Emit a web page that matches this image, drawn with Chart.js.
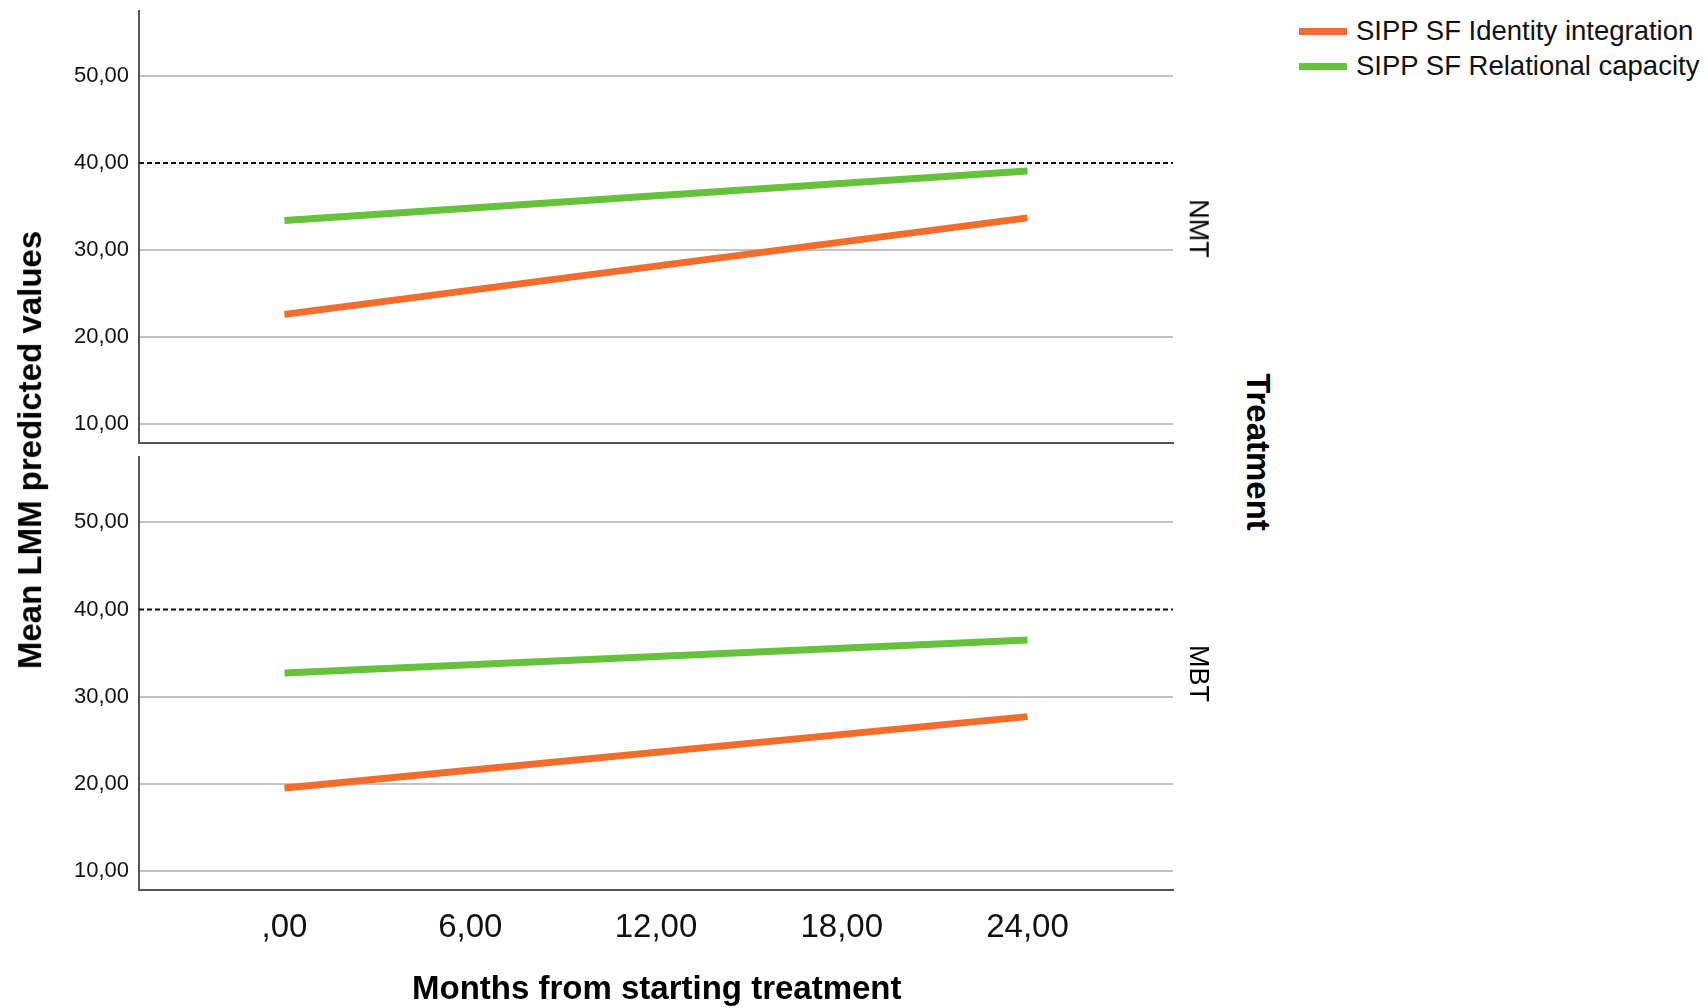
<!DOCTYPE html>
<html>
<head>
<meta charset="utf-8">
<script src="https://cdn.jsdelivr.net/npm/chart.js@4/dist/chart.umd.min.js"></script>
<style>
  body { margin: 0; width: 1708px; height: 1008px; background: #fff; position: relative; overflow: hidden;
         font-family: "Liberation Sans", Arial, sans-serif; color: #000; }
  canvas { position: absolute; left: 0; }
  .lbl { position: absolute; white-space: nowrap; transform-origin: center center; }
  .leg { position: absolute; left: 1299px; display: flex; align-items: center; font-size: 27.5px; color: #111; }
  .leg span.swatch { display: inline-block; width: 48px; height: 7px; margin-right: 9px; }
</style>
</head>
<body>
<canvas id="topChart" width="1200" height="460" style="top:0"></canvas>
<canvas id="botChart" width="1200" height="562" style="top:446px"></canvas>
<script>
// data
const months = [0, 24];
const panels = ['NMT', 'MBT'];
const seriesNames = ['SIPP SF Identity integration', 'SIPP SF Relational capacity'];
const seriesColors = ['#f26c2b', '#66c23a'];
const nmtIdentity = [22.6, 33.7];
const nmtRelational = [33.4, 39.1];
const mbtIdentity = [19.5, 27.7];
const mbtRelational = [32.7, 36.5];
const refValue = 40;
const xTicks = [0, 6, 12, 18, 24];
const yTicks = [10, 20, 30, 40, 50];
const xMin = -4.7, xMax = 28.7;
const yMin = 7.8, yMax = 57.5;

const xTitle = 'Months from starting treatment';
const yTitle = 'Mean LMM predicted values';
const panelTitle = 'Treatment';

// SPSS style numbers: 12,00  ,00
function fmt(v) {
  let s = v.toFixed(2).replace('.', ',');
  if (s.startsWith('0,')) s = s.slice(1);
  return s;
}

function pts(vals) {
  return months.map((m, i) => ({ x: m, y: vals[i] }));
}

function makePanel(id, identity, relational, showX, xHeight) {
  const datasets = [
    { label: 'ref', data: [{ x: xMin, y: refValue }, { x: xMax, y: refValue }],
      borderColor: '#111', borderWidth: 2, borderDash: [5, 3], pointRadius: 0 },
    { label: seriesNames[0], data: pts(identity), borderColor: seriesColors[0], borderWidth: 7, pointRadius: 0 },
    { label: seriesNames[1], data: pts(relational), borderColor: seriesColors[1], borderWidth: 7, pointRadius: 0 }
  ];
  return new Chart(document.getElementById(id), {
    type: 'line',
    data: { datasets },
    options: {
      responsive: false,
      animation: false,
      layout: { padding: { top: 11, right: 27, left: 0, bottom: 0 } },
      plugins: { legend: { display: false }, tooltip: { enabled: false } },
      scales: {
        x: {
          type: 'linear', min: xMin, max: xMax,
          afterBuildTicks: s => { s.ticks = xTicks.map(v => ({ value: v })); },
          afterFit: s => { s.height = xHeight; s.paddingLeft = 0; s.paddingRight = 0; },
          grid: { display: false },
          border: { display: true, color: '#555', width: 2 },
          ticks: {
            display: showX, padding: 10, color: '#111',
            font: { family: 'Liberation Sans', size: 33 },
            callback: v => fmt(v)
          }
        },
        y: {
          min: yMin, max: yMax,
          afterBuildTicks: s => { s.ticks = yTicks.map(v => ({ value: v })); },
          afterFit: s => { s.width = 139; s.paddingTop = 0; s.paddingBottom = 0; },
          grid: {
            drawTicks: false, lineWidth: 2,
            color: c => (c.tick && c.tick.value === refValue) ? 'rgba(0,0,0,0)' : '#c2c2c2'
          },
          border: { display: true, color: '#555', width: 2 },
          ticks: {
            padding: 10, color: '#111',
            font: { family: 'Liberation Sans', size: 22 },
            callback: v => fmt(v)
          }
        }
      }
    }
  });
}

makePanel('topChart', nmtIdentity, nmtRelational, false, 17);
makePanel('botChart', mbtIdentity, mbtRelational, true, 118);

// text around the panels
function addLabel(text, cx, cy, rot, css) {
  const d = document.createElement('div');
  d.className = 'lbl';
  d.textContent = text;
  d.style.cssText += css;
  document.body.appendChild(d);
  const w = d.offsetWidth, h = d.offsetHeight;
  d.style.left = (cx - w / 2) + 'px';
  d.style.top = (cy - h / 2) + 'px';
  d.style.transform = 'rotate(' + rot + 'deg)';
}
addLabel(xTitle, 657, 988, 0, 'font-size:33px;font-weight:bold;');
addLabel(yTitle, 30, 450, -90, 'font-size:33px;font-weight:bold;');
addLabel(panelTitle, 1258, 452, 90, 'font-size:33px;font-weight:bold;');
addLabel(panels[0], 1198, 228, 90, 'font-size:27px;');
addLabel(panels[1], 1198, 673, 90, 'font-size:27px;');

// legend
const legY = [31, 66];
seriesNames.forEach((name, i) => {
  const row = document.createElement('div');
  row.className = 'leg';
  row.innerHTML = '<span class="swatch" style="background:' + seriesColors[i] + '"></span>' + name;
  document.body.appendChild(row);
  row.style.top = (legY[i] - row.offsetHeight / 2) + 'px';
});
</script>
</body>
</html>
